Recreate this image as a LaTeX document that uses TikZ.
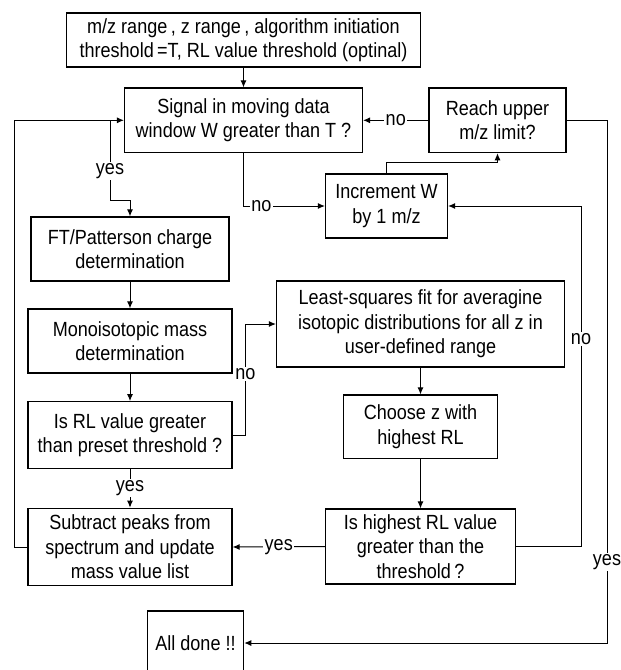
\documentclass[tikz,border=0pt]{standalone}
\usepackage{fontspec}
\setmainfont{Liberation Sans}[FakeStretch=0.88]
\usetikzlibrary{arrows.meta}
\begin{document}
\begin{tikzpicture}[x=1pt,y=-1pt,
  every node/.style={font=\fontsize{20.5}{24.5}\selectfont},
  box/.style={draw, line width=1.2pt, align=center, inner sep=0pt},
  lab/.style={fill=white, inner sep=1.5pt},
  conn/.style={line width=1pt, -{Latex[length=7pt,width=6pt]}},
  plain/.style={line width=1pt}]
\useasboundingbox (0,0) rectangle (621,670);
\clip (0,0) rectangle (621,670);
% boxes
\node[box, minimum width=354pt, minimum height=54pt] (top) at (243.5,40)
  {m/z range\,, z range\,, algorithm initiation\\threshold\,=T, RL value threshold (optinal)};
\node[box, minimum width=238pt, minimum height=64.7pt] (signal) at (243.5,120.3)
  {Signal in moving data\\window W greater than T ?};
\node[box, minimum width=137pt, minimum height=64.7pt] (reach) at (497.5,120.3)
  {Reach upper\\m/z limit?};
\node[box, minimum width=122pt, minimum height=64pt] (incr) at (386.5,206)
  {Increment W\\by 1 m/z};
\node[box, minimum width=198pt, minimum height=64pt] (ft) at (130,249)
  {FT/Patterson charge\\determination};
\node[box, minimum width=204pt, minimum height=64pt] (mono) at (130,341)
  {Monoisotopic mass\\determination};
\node[box, minimum width=288pt, minimum height=86pt] (ls) at (420.5,324)
  {Least-squares fit for averagine\\isotopic distributions for all z in\\user-defined range};
\node[box, minimum width=204pt, minimum height=66.6pt] (isrl) at (130,435)
  {Is RL value greater\\than preset threshold ?};
\node[box, minimum width=154.4pt, minimum height=63.3pt] (choose) at (420.5,426.7)
  {Choose z with\\highest RL};
\node[box, minimum width=204pt, minimum height=77.4pt] (subtract) at (130,547)
  {Subtract peaks from\\spectrum and update\\mass value list};
\node[box, minimum width=190pt, minimum height=75pt] (ishigh) at (420.5,546.5)
  {Is highest RL value\\greater than the\\threshold\,?};
\node[box, minimum width=96.3pt, minimum height=64pt] (alldone) at (195.5,643)
  {All done !!};
% helper coordinates
\coordinate (rr) at (607,120.3);
\coordinate (rb) at (607,643);
\coordinate (nr) at (581,546.5);
\coordinate (nt) at (581,206);
\coordinate (n1) at (245.5,435);
\coordinate (n2) at (245.5,324);
\coordinate (y0) at (110,120.3);
\coordinate (y1) at (110,200);
\coordinate (l1) at (14,547);
\coordinate (l2) at (14,120.3);
% connectors
\draw[conn] (top) -- (signal);
\draw[conn] (reach.west) -- node[lab]{no} (signal.east);
\draw[conn] (signal.south) |- node[lab, pos=0.61]{no} (incr.west);
\draw[conn] (incr.north) -- ++(0,-11) -| (reach.south);
\draw[conn] (reach.east) -- (rr) -- node[lab, pos=0.845]{yes} (rb) -- (alldone.east);
\draw[conn] (ishigh.east) -- (nr) -- node[lab, pos=0.61]{no} (nt) -- (incr.east);
\draw[conn] (ishigh.west) -- node[lab]{yes} (subtract.east);
\draw[conn] (ls.south) -- (choose.north);
\draw[conn] (choose.south) -- (ishigh.north);
\draw[conn] (isrl.east) -- (n1) -- node[lab, pos=0.55]{no} (n2) -- (ls.west);
\draw[conn] (isrl.south) -- node[lab]{yes} (subtract.north);
\draw[conn] (ft) -- (mono);
\draw[conn] (mono) -- (isrl);
\draw[conn] (y0) -- node[lab, pos=0.64]{yes} (y1) -| (ft.north);
\draw[conn] (subtract.west) -- (l1) -- (l2) -- (signal.west);
\end{tikzpicture}
\end{document}
